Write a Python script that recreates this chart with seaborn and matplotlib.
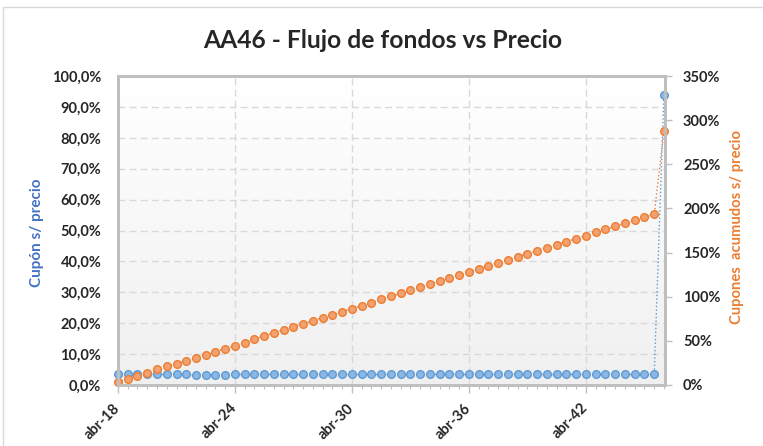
import numpy as np
import pandas as pd
import matplotlib
matplotlib.use('Agg')
import matplotlib.pyplot as plt
from matplotlib.colors import LinearSegmentedColormap
import seaborn as sns

# Datos: pagos semestrales abr-18 ... abr-46
fechas = pd.date_range('2018-04-01', periods=57, freq='6MS')

# Cupon s/ precio (%), eje izquierdo
cupon_precio = [3.5, 3.5, 3.5, 3.5, 3.4, 3.4, 3.4, 3.4, 3.2, 3.2,
                3.2, 3.3, 3.4, 3.4, 3.4, 3.4, 3.4, 3.4, 3.4, 3.4,
                3.4, 3.4, 3.4, 3.4, 3.4, 3.4, 3.4, 3.4, 3.4, 3.4,
                3.4, 3.4, 3.4, 3.4, 3.4, 3.4, 3.4, 3.4, 3.4, 3.4,
                3.4, 3.4, 3.4, 3.4, 3.4, 3.4, 3.4, 3.4, 3.4, 3.4,
                3.4, 3.4, 3.4, 3.4, 3.4, 3.4, 94.0]

# Cupones acumulados s/ precio (%), eje derecho
cupones_acum = [3.7, 6.8, 9.9, 13.2, 17.8, 21.2, 24.1, 27.5, 30.2, 33.6,
                37.7, 41.1, 44.5, 47.9, 51.8, 55.8, 59.2, 62.6, 66.1, 69.5,
                73.0, 76.4, 79.6, 83.1, 86.5, 90.0, 93.4, 96.9, 100.3, 103.8,
                107.2, 110.7, 114.1, 117.6, 121.0, 124.5, 127.9, 131.4, 134.8, 138.3,
                141.7, 145.2, 148.6, 152.1, 155.5, 159.0, 162.4, 165.9, 169.3, 172.8,
                176.2, 179.7, 183.1, 186.6, 190.0, 193.5, 287.5]

etiquetas_x = ['abr-18', 'abr-24', 'abr-30', 'abr-36', 'abr-42']
ticks_x = pd.to_datetime(['2018-04-01', '2024-04-01', '2030-04-01',
                          '2036-04-01', '2042-04-01'])
ticks_izq = list(range(0, 101, 10))
ticks_der = list(range(0, 351, 50))

df = pd.DataFrame({'fecha': fechas, 'cupon': cupon_precio, 'acum': cupones_acum})

sns.set_style('white')
plt.rcParams['font.family'] = ['Lato', 'DejaVu Sans']
plt.rcParams['font.weight'] = 'bold'

AZUL = '#5B9BD5'
AZUL_CLARO = '#8DB6E2'
NARANJA = '#ED7D31'
NARANJA_CLARO = '#F4A170'
GRIS = '#BFBFBF'

fig = plt.figure(figsize=(7.63, 4.46), dpi=100)
rect = [118 / 763, 1 - 385 / 446, 547 / 763, 309 / 446]

# fondo degradado del area de trazado
bg = fig.add_axes(rect, zorder=-1)
grad = np.linspace(0, 1, 256).reshape(-1, 1)
bg.imshow(grad, aspect='auto', origin='lower', extent=[0, 1, 0, 1],
          cmap=LinearSegmentedColormap.from_list('g', ['#F0F0F0', '#FFFFFF']))
bg.axis('off')

ax = fig.add_axes(rect)
ax.patch.set_alpha(0)
ax2 = ax.twinx()

sns.lineplot(data=df, x='fecha', y='cupon', ax=ax, color=AZUL, marker='o',
             markersize=5.5, markerfacecolor=AZUL_CLARO, markeredgecolor=AZUL,
             markeredgewidth=1, linestyle=':', linewidth=1)
sns.lineplot(data=df, x='fecha', y='acum', ax=ax2, color=NARANJA, marker='o',
             markersize=5.5, markerfacecolor=NARANJA_CLARO, markeredgecolor=NARANJA,
             markeredgewidth=1, linestyle=':', linewidth=1)
for l in ax.lines + ax2.lines:
    l.set_clip_on(False)

ax.set_xlim(fechas[0], fechas[-1] + pd.Timedelta(days=20))
ax.set_ylim(0, 100)
ax2.set_ylim(0, 350)

ax.set_xticks(ticks_x)
ax.set_xticks(fechas, minor=True)
ax.set_xticklabels(etiquetas_x, rotation=45, ha='right', va='center',
                   rotation_mode='anchor', fontsize=10.5, fontweight='bold')
ax.set_yticks(ticks_izq)
ax.set_yticklabels([f'{v},0%' for v in ticks_izq], fontsize=10.5, fontweight='bold')
ax2.set_yticks(ticks_der)
ax2.set_yticklabels([f'{v}%' for v in ticks_der], fontsize=10.5, fontweight='bold')

ax.tick_params(axis='x', which='major', length=6, width=1, color=GRIS, direction='out', pad=9, bottom=True)
ax.tick_params(axis='x', which='minor', length=3, width=0.8, color=GRIS, direction='out', bottom=True)
ax.tick_params(axis='y', length=0, pad=12)
ax2.tick_params(axis='y', length=5, width=1, color=GRIS, direction='out', pad=8, right=True)

ax.grid(True, which='major', linestyle=(0, (5, 3)), color='#D9D9D9', linewidth=1)
ax2.grid(False)

for a in (ax, ax2):
    for s in a.spines.values():
        s.set_color(GRIS)
        s.set_linewidth(2)

ax.set_xlabel('')
ax.set_ylabel('Cupón s/ precio', color='#4472C4', fontsize=11, fontweight='bold')
ax.yaxis.label.set(va='center', ha='center')
ax.yaxis.set_label_coords(-0.148, 0.493)
ax2.set_ylabel('Cupones  acumudos s/ precio', color=NARANJA, fontsize=10.6, fontweight='bold')
ax2.yaxis.label.set(va='center', ha='center')
ax2.yaxis.set_label_coords(1.1316, 0.512)

fig.suptitle('AA46 - Flujo de fondos vs Precio', x=0.502, y=0.91, va='center',
             fontsize=17.7, fontweight='bold')

# borde del area del grafico
fig.patches.append(plt.Rectangle((3 / 763, -0.05), 1.1, 1 - 7 / 446 + 0.05,
                                 transform=fig.transFigure, fill=False,
                                 edgecolor='#D9D9D9', linewidth=1))

fig.savefig('out.png', dpi=100)
